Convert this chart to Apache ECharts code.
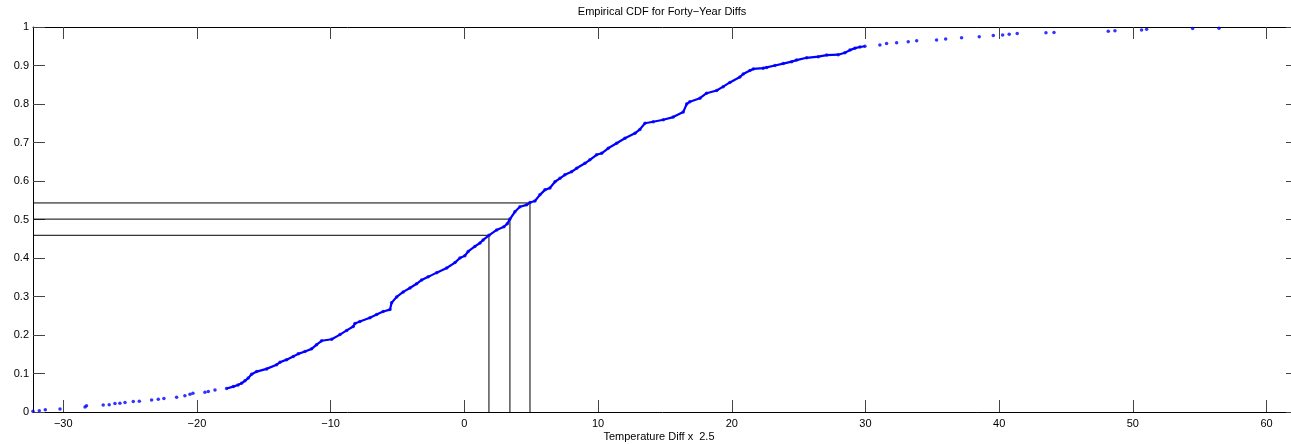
<!DOCTYPE html>
<html>
<head>
<meta charset="utf-8">
<script src="https://cdn.jsdelivr.net/npm/echarts@6/dist/echarts.min.js"></script>
<style>
html,body{margin:0;padding:0;background:#fff;}
#c{width:1291px;height:444px;}
</style>
</head>
<body>
<div id="c"></div>
<script>
// ---- data ----
var cdfX = [-32.26,-31.79,-31.34,-30.24,-28.37,-28.26,-27.01,-26.56,-26.13,-25.76,-25.38,-24.76,-24.31,-23.39,-22.89,-22.47,-21.52,-20.90,-20.52,-20.30,
  -19.40,-19.15,-18.65,-17.78,-17.28,-16.93,-16.66,-16.41,-16.16,-15.91,-15.53,-14.79,-14.04,-13.79,-13.29,-12.80,-12.42,-11.92,-11.42,-11.05,
  -10.67,-9.92,-9.30,-8.80,-8.31,-8.18,-7.81,-7.06,-6.56,-6.07,-5.56,-5.44,-5.06,-4.57,-4.07,-3.57,-3.19,-2.70,-2.07,-1.32,
  -0.70,-0.33,0.04,0.29,0.79,1.17,1.41,1.84,2.42,2.96,3.21,3.41,3.78,4.16,4.66,4.91,5.28,5.65,6.03,6.40,
  6.78,7.15,7.52,8.02,8.40,9.02,9.39,9.89,10.27,10.76,11.39,12.01,12.76,13.13,13.51,14.13,14.88,15.62,16.37,16.63,
  16.87,17.62,18.12,18.87,19.36,19.86,20.61,20.86,21.36,21.61,22.35,22.61,23.23,23.85,24.48,24.85,25.60,26.47,27.10,27.96,
  28.46,28.84,29.21,29.59,29.96,31.08,31.58,32.33,33.20,33.83,35.32,36.00,37.19,38.51,39.56,40.26,40.75,41.35,43.50,44.10,
  48.16,48.66,50.65,51.03,54.47,56.44];
var cdfY = [0.002,0.003,0.006,0.008,0.013,0.016,0.018,0.019,0.022,0.023,0.025,0.027,0.028,0.031,0.033,0.035,0.038,0.042,0.046,0.049,
  0.051,0.053,0.057,0.061,0.066,0.070,0.075,0.081,0.088,0.098,0.105,0.112,0.123,0.129,0.136,0.144,0.151,0.157,0.164,0.175,
  0.185,0.189,0.201,0.212,0.222,0.230,0.235,0.245,0.253,0.261,0.266,0.284,0.299,0.312,0.322,0.333,0.343,0.351,0.362,0.374,
  0.388,0.400,0.406,0.417,0.430,0.439,0.447,0.459,0.473,0.481,0.489,0.501,0.520,0.533,0.538,0.544,0.548,0.564,0.577,0.582,
  0.598,0.607,0.616,0.624,0.633,0.646,0.655,0.668,0.672,0.685,0.698,0.711,0.724,0.734,0.750,0.754,0.759,0.766,0.779,0.800,
  0.806,0.815,0.828,0.835,0.845,0.856,0.870,0.878,0.887,0.891,0.893,0.895,0.900,0.905,0.910,0.914,0.920,0.923,0.927,0.928,
  0.933,0.940,0.945,0.948,0.950,0.953,0.957,0.959,0.962,0.964,0.966,0.969,0.972,0.975,0.978,0.979,0.981,0.983,0.985,0.986,
  0.989,0.990,0.992,0.994,0.996,0.997];
var quantX = [1.84, 3.41, 4.91];
var quantY = [0.459, 0.501, 0.543];
var xTicks = [-30,-20,-10,0,10,20,30,40,50,60];
var yTickLabels = ['0','0.1','0.2','0.3','0.4','0.5','0.6','0.7','0.8','0.9','1'];
var xMin = -32.26, xMax = 62.35;
var titleText = 'Empirical CDF for Forty\u2212Year Diffs';
var xLabelText = 'Temperature Diff x  2.5';

// ---- chart ----
var FONT = '"Liberation Sans", Arial, Helvetica, sans-serif';
var pts = cdfX.map(function(x, i){ return [x, cdfY[i]]; });
var densePts = pts.filter(function(p){ return p[0] >= -17.8 && p[0] <= 30; });
var refSeries = quantX.map(function(qx, i){
  return {
    type: 'line', xAxisIndex: 0, yAxisIndex: 0, silent: true, symbol: 'none',
    lineStyle: {color: '#000', width: 1}, z: 1,
    data: [[xMin, quantY[i]], [qx, quantY[i]], [qx, 0]]
  };
});
function fmtX(v){ return v < 0 ? '\u2212' + Math.abs(v) : String(v); }
var tickStyle = {show: true, inside: true, length: 12, lineStyle: {color: '#444', width: 1}};
var chart = echarts.init(document.getElementById('c'), null, {renderer: 'canvas'});
chart.setOption({
  animation: false,
  backgroundColor: '#fff',
  grid: {left: 33, top: 27, width: 1265, height: 385, containLabel: false, outerBoundsMode: 'none'},
  xAxis: [
    {type: 'value', position: 'bottom', min: xMin, max: xMax,
     axisLine: {show: true, onZero: false, lineStyle: {color: '#000', width: 1}},
     axisTick: Object.assign({customValues: xTicks}, tickStyle),
     axisLabel: {customValues: xTicks, formatter: fmtX, color: '#000', fontSize: 11, fontFamily: FONT, margin: 6},
     splitLine: {show: false}},
    {type: 'value', position: 'top', min: xMin, max: xMax,
     axisLine: {show: true, onZero: false, lineStyle: {color: '#000', width: 1}},
     axisTick: Object.assign({customValues: xTicks}, tickStyle),
     axisLabel: {show: false}, splitLine: {show: false}}
  ],
  yAxis: [
    {type: 'value', position: 'left', min: 0, max: 1, interval: 0.1,
     axisLine: {show: true, onZero: false, lineStyle: {color: '#000', width: 1}},
     axisTick: tickStyle,
     axisLabel: {formatter: function(v){ var i = Math.round(v*10); return yTickLabels[i]; }, color: '#000', fontSize: 11, fontFamily: FONT, margin: 4},
     splitLine: {show: false}},
    {type: 'value', position: 'right', min: 0, max: 1, interval: 0.1,
     axisLine: {show: true, onZero: false, lineStyle: {color: '#000', width: 1}},
     axisTick: tickStyle, axisLabel: {show: false}, splitLine: {show: false}}
  ],
  graphic: [
    {type: 'text', x: 662, y: 12, style: {text: titleText, fill: '#000', font: '11px ' + FONT, align: 'center', verticalAlign: 'middle'}},
    {type: 'text', x: 659, y: 437, style: {text: xLabelText, fill: '#000', font: '11px ' + FONT, align: 'center', verticalAlign: 'middle'}}
  ],
  series: refSeries.concat([
    {type: 'line', name: 'dense', data: densePts, symbol: 'none', lineStyle: {color: '#0000ff', width: 2.2}, z: 2, silent: true},
    {type: 'scatter', name: 'ecdf', data: pts, symbol: 'circle', symbolSize: 3.5, itemStyle: {color: '#0000ff'}, z: 3, silent: true}
  ])
});
</script>
</body>
</html>
